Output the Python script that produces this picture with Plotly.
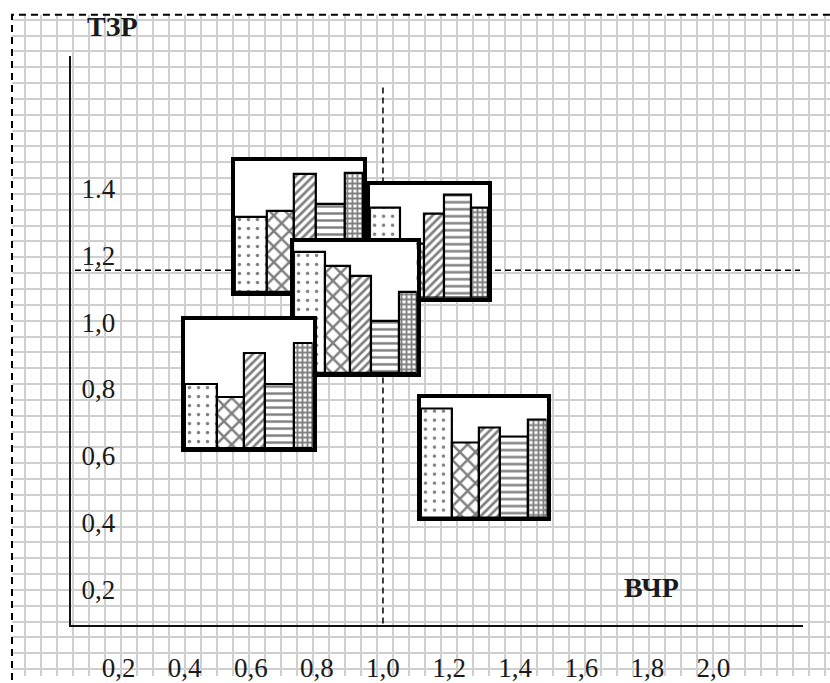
import plotly.graph_objects as go

# ВЧР / ТЗР span of each mini chart (drawn in this order, later ones on top)
vchr_lo = [0.552, 0.961, 0.731, 0.401, 1.115]
vchr_hi = [0.940, 1.319, 1.102, 0.787, 1.495]
tzr_lo = [1.135, 1.118, 0.893, 0.668, 0.461]
tzr_hi = [1.527, 1.456, 1.285, 1.051, 0.819]

# bar heights inside each mini chart, share of its height
factors = ['Ф1', 'Ф2', 'Ф3', 'Ф4', 'Ф5']
shares_a = [0.57, 0.62, 0.90, 0.67, 0.91]
shares_b = [0.80, 0.48, 0.74, 0.91, 0.80]
shares_c = [0.92, 0.82, 0.74, 0.40, 0.62]
shares_d = [0.50, 0.40, 0.74, 0.50, 0.82]
shares_e = [0.91, 0.62, 0.75, 0.67, 0.82]
all_shares = [shares_a, shares_b, shares_c, shares_d, shares_e]

# dividing lines
vchr_split = 1.0
tzr_split = 1.2

x_ticks = [0.2, 0.4, 0.6, 0.8, 1.0, 1.2, 1.4, 1.6, 1.8, 2.0]
x_ticktext = ['0,2', '0,4', '0,6', '0,8', '1,0', '1,2', '1,4', '1,6', '1,8', '2,0']
y_ticks = [0.2, 0.4, 0.6, 0.8, 1.0, 1.2, 1.4]
y_ticktext = ['0,2', '0,4', '0,6', '0,8', '1,0', '1,2', '1.4']

# ---- layout constants ----
W, H = 830, 683
FONT = 'Liberation Serif'
X_DOM = [71 / W, 803 / W]
Y_DOM = [1 - 631 / H, 1 - 57 / H]
X_RNG = [0.056, 2.271]
Y_RNG = [0.14, 1.84]
bar_widths = [31, 26, 21, 28, 18]
patterns = ['.', 'x', '/', '-', '+']
pattern_sizes = [9, 11, 6, 7, 5]
pattern_solid = [0.12, 0.4, 0.45, 0.35, 0.6]
GRID_X = list(range(25, W, 16))
GRID_Y = list(range(20, H, 16))


def px_x(v):
    return X_DOM[0] + (v - X_RNG[0]) / (X_RNG[1] - X_RNG[0]) * (X_DOM[1] - X_DOM[0])


def px_y(v):
    return Y_DOM[0] + (v - Y_RNG[0]) / (Y_RNG[1] - Y_RNG[0]) * (Y_DOM[1] - Y_DOM[0])


fig = go.Figure()

# graph-paper grid (subplot xy, pixel units)
fig.add_trace(go.Scatter(x=[], y=[], xaxis='x', yaxis='y', showlegend=False))

# dashed dividing lines on the main axes
fig.add_trace(go.Scatter(
    x=[vchr_split, vchr_split], y=[0.113, 1.757],
    xaxis='x2', yaxis='y2', mode='lines', showlegend=False, cliponaxis=False,
    line=dict(color='black', width=1.5, dash='6px,4px'), hoverinfo='skip'
))
fig.add_trace(go.Scatter(
    x=[0.068, 2.262], y=[tzr_split, tzr_split],
    xaxis='x2', yaxis='y2', mode='lines', showlegend=False,
    line=dict(color='black', width=1.5, dash='6px,4px'), hoverinfo='skip'
))

# centres of bars inside a mini chart
total_w = sum(bar_widths)
centres = []
acc = 0
for w in bar_widths:
    centres.append(acc + w / 2)
    acc += w

layout_axes = {}
shapes = []
for i, shares in enumerate(all_shares):
    n = i + 3
    fig.add_trace(go.Bar(
        x=centres, y=shares, width=bar_widths, text=factors,
        xaxis=f'x{n}', yaxis=f'y{n}', showlegend=False,
        textposition='none',
        marker=dict(
            color='white',
            line=dict(color='black', width=2.2),
            pattern=dict(shape=patterns, size=pattern_sizes, solidity=pattern_solid,
                         fgcolor='black', bgcolor='white')
        )
    ))
    box_axis = dict(showline=True, mirror=True, linewidth=3.5, linecolor='black',
                    showgrid=False, zeroline=False, showticklabels=False, ticks='',
                    fixedrange=True)
    layout_axes[f'xaxis{n}'] = dict(box_axis, domain=[px_x(vchr_lo[i]), px_x(vchr_hi[i])],
                                    range=[0, total_w], anchor=f'y{n}')
    layout_axes[f'yaxis{n}'] = dict(box_axis, domain=[px_y(tzr_lo[i]), px_y(tzr_hi[i])],
                                    range=[0, 1], anchor=f'x{n}')
    # white inside of the box
    shapes.append(dict(type='rect', xref=f'x{n}', yref=f'y{n}', x0=0, x1=total_w, y0=0, y1=1,
                       fillcolor='white', line=dict(width=0), layer='below'))

# outer dashed frame
shapes.append(dict(type='rect', xref='paper', yref='paper',
                   x0=12 / W, x1=1.05, y0=-0.05, y1=1 - 15 / H,
                   line=dict(color='black', width=2, dash='7px,5px'), layer='above'))

grid_axis = dict(showgrid=True, gridcolor='#cfcfcf', gridwidth=2, zeroline=False,
                 showticklabels=False, ticks='', showline=False, fixedrange=True,
                 tickmode='array')
tick_font = dict(family=FONT, size=27, color='#1a1a1a')

fig.update_layout(
    width=W, height=H,
    margin=dict(l=0, r=0, t=0, b=0),
    paper_bgcolor='white',
    plot_bgcolor='rgba(0,0,0,0)',
    showlegend=False,
    hovermode=False,
    bargap=0,
    xaxis=dict(grid_axis, domain=[12 / W, 1], range=[12, W], tickvals=GRID_X, anchor='y'),
    yaxis=dict(grid_axis, domain=[0, 1 - 15 / H], range=[H, 15], tickvals=GRID_Y, anchor='x'),
    xaxis2=dict(domain=X_DOM, range=X_RNG, anchor='y2', showline=True, linecolor='#111111',
                linewidth=2, showgrid=False, zeroline=False, tickmode='array',
                tickvals=x_ticks, ticktext=x_ticktext, ticks='', tickfont=tick_font,
                ticklabelstandoff=18, fixedrange=True),
    yaxis2=dict(domain=Y_DOM, range=Y_RNG, anchor='x2', showline=True, linecolor='#111111',
                linewidth=2, showgrid=False, zeroline=False, tickmode='array',
                tickvals=y_ticks, ticktext=y_ticktext, ticks='', tickfont=tick_font,
                ticklabelposition='inside', ticklabelshift=-15, ticklabelstandoff=13,
                ticklabeloverflow='allow', fixedrange=True),
    shapes=shapes,
    annotations=[
        dict(text='<b>ТЗР</b>', xref='paper', yref='paper', x=85 / W, y=1 - 27 / H,
             xanchor='left', yanchor='middle', showarrow=False,
             font=dict(family=FONT, size=28, color='#1a1a1a')),
        dict(text='<b>ВЧР</b>', xref='paper', yref='paper', x=622 / W, y=1 - 594 / H,
             xanchor='left', yanchor='middle', showarrow=False,
             font=dict(family=FONT, size=28, color='#1a1a1a')),
    ],
    **layout_axes
)

# page body margin would shift the whole picture by 8px
fig.write_html("out.html", config={'displayModeBar': False},
               post_script="document.body.style.margin='0';")
